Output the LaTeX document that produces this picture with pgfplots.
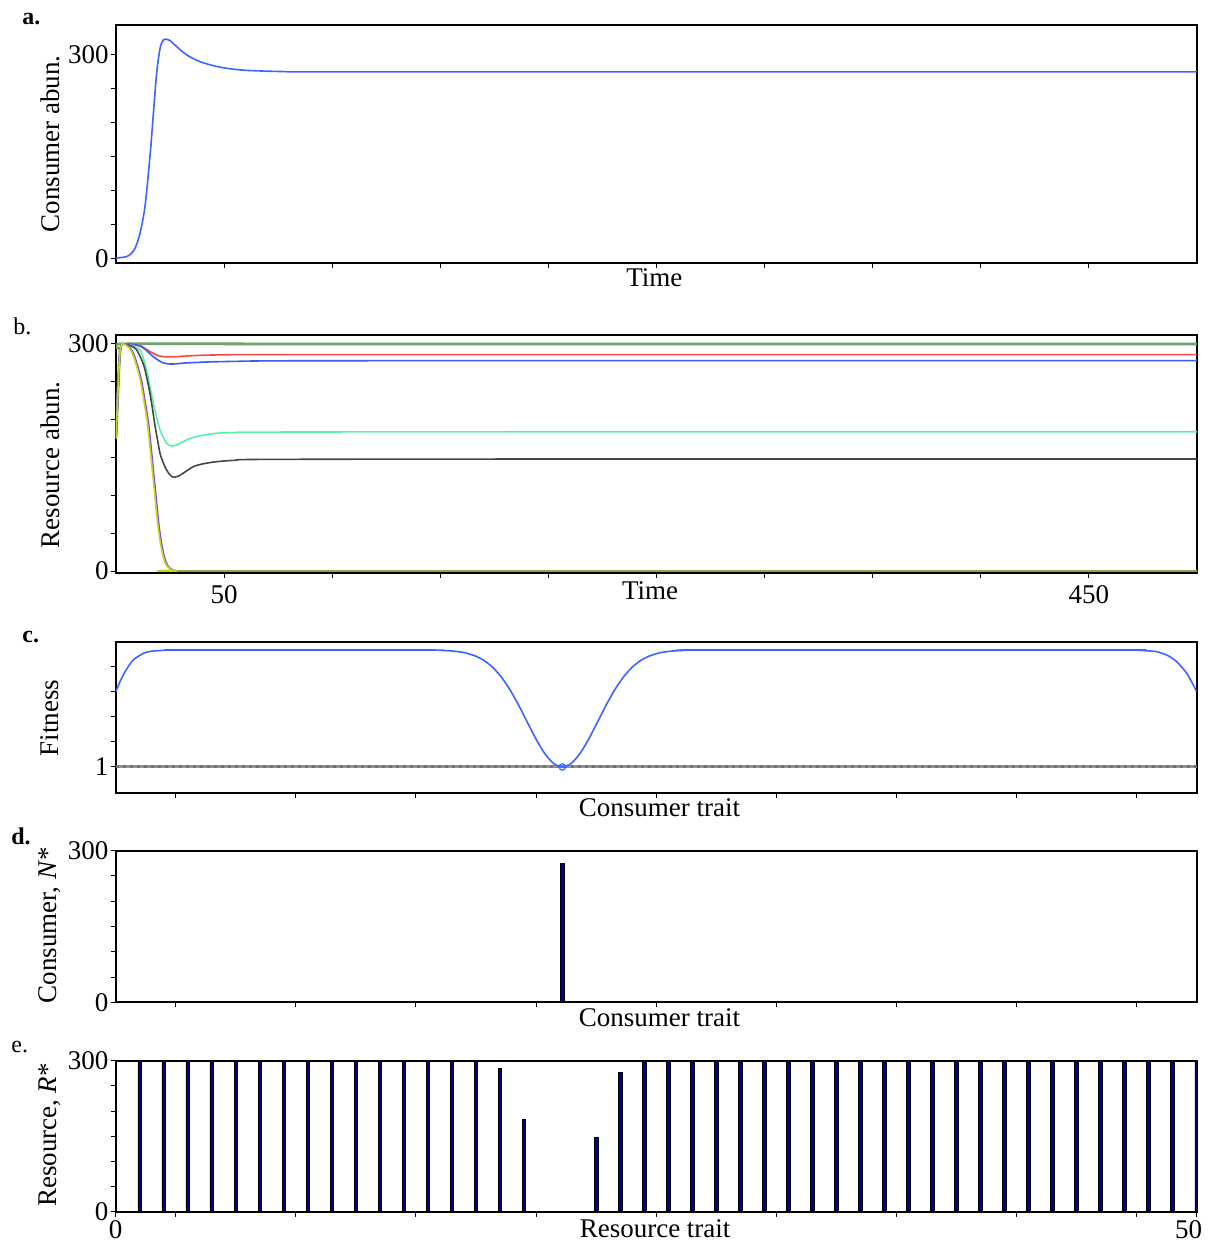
\documentclass[border=0pt]{standalone}
\usepackage{pgfplots}
\pgfplotsset{compat=1.18}
\usepackage{fontspec}
\setmainfont{Liberation Serif}
\definecolor{cblue}{RGB}{60,100,255}
\definecolor{cgreen}{RGB}{105,165,105}
\definecolor{cred}{RGB}{255,70,70}
\definecolor{cblue2}{RGB}{60,90,255}
\definecolor{caqua}{RGB}{90,240,170}
\definecolor{cgray}{RGB}{70,70,70}
\definecolor{cyellow}{RGB}{200,215,20}
\definecolor{cpurple}{RGB}{130,70,240}
\definecolor{colive}{RGB}{150,160,80}
\definecolor{cnavy}{RGB}{0,0,140}
\definecolor{cline}{RGB}{140,150,140}
\definecolor{cdot}{RGB}{120,110,130}
\newcommand{\lblfont}{\fontsize{13.5}{16}\selectfont}
\pgfplotsset{
  every axis/.append style={
    scale only axis, width=540.5pt, anchor=south west,
    axis line style={line width=0.9pt},
    tick align=outside, xtick pos=bottom, ytick pos=left,
    major tick length=2.5pt,
    tick style={line width=0.5pt, black},
    tick label style={font=\lblfont},
    label style={font=\lblfont},
    /pgf/number format/assume math mode=true,
    yticklabel style={inner sep=1pt},
    ylabel style={at={(axis description cs:-0.061,0.5)}, anchor=center},
  },
}
\begin{document}
\begin{tikzpicture}
\path[use as bounding box] (0pt,0pt) rectangle (606.5pt,626pt);

% ---------- a ----------
\begin{axis}[at={(58pt,494.5pt)}, height=119pt,
  xmin=0, xmax=500, ymin=-5.9, ymax=344,
  xtick={50,100,...,450}, xticklabels={},
  ytick={0,50,...,300}, yticklabels={0,,,,,,300},
  xlabel={Time}, xlabel style={at={(axis description cs:0.498,0)}, anchor=north, inner sep=2.5pt},
  ylabel={Consumer abun.}]
\addplot[cblue, line width=0.8pt, smooth, tension=0.5] coordinates {
(0,1) (2,2) (4.9,3.4) (7,8) (8.8,15.7) (11.1,37.7) (13.4,77) (15.7,150) (17.3,214) (18.8,273) (20.4,310) (21.9,322) (23.5,323) (25,321) (28.1,312) (32.7,300) (38.9,290) (46.6,283) (54.3,279) (62,277) (77.5,275.5) (100,275) (300,275) (500,275)};
\end{axis}

% ---------- b ----------
\begin{axis}[at={(58pt,339.5pt)}, height=119pt,
  xmin=0, xmax=500, ymin=-2.6, ymax=311.9,
  xtick={50,100,...,450}, xticklabels={50,,,,,,,,450},
  ytick={0,50,...,300}, yticklabels={0,,,,,,300},
  xlabel={Time}, xlabel style={at={(axis description cs:0.494,0)}, anchor=north, inner sep=0pt, yshift=-4pt},
  ylabel={Resource abun.}, ylabel style={at={(axis description cs:-0.061,0.454)}}]
\addplot[cgreen, line width=1.4pt, smooth, tension=0.5] coordinates {
(0,175) (0.5,210) (1,245) (1.5,275) (2,293) (2.8,300) (100,300) (500,300)};
\addplot[cred, line width=0.8pt, smooth, tension=0.5] coordinates {
(0,175) (0.5,210) (1,245) (1.5,275) (2,293) (2.8,300) (4,300) (8,299.5) (11.1,298) (13.5,294) (15.7,290) (18,286.5) (20.4,284) (23,283) (26.5,283) (32,284) (38.9,285) (50,285.7) (69.8,286) (200,286) (500,286)};
\addplot[cblue2, line width=0.8pt, smooth, tension=0.5] coordinates {
(0,175) (0.5,210) (1,245) (1.5,275) (2,293) (2.8,300) (4,300) (9,299) (12.6,295) (15,289) (17.3,283) (19.6,278.5) (21.9,275) (25,273.5) (28.5,274) (32.7,275) (42,276.2) (54.3,277) (80,277.8) (200,278) (500,278)};
\addplot[caqua, line width=0.8pt, smooth, tension=0.5] coordinates {
(0,175) (0.5,210) (1,245) (1.5,275) (2,293) (2.8,300) (4,300) (8,297.5) (11.1,292) (12.7,281) (14.2,265) (15.8,243) (17.3,221.5) (18.9,202) (20.4,186) (22,176) (23.5,168.6) (25.8,165) (27.5,166) (29.6,168.6) (32.5,173) (35.8,176.6) (40,179.3) (46.6,182) (55,183) (69.8,183.6) (200,184) (500,184)};
\addplot[cgray, line width=0.8pt, smooth, tension=0.5] coordinates {
(0,175) (0.5,210) (1,245) (1.5,275) (2,293) (2.8,300) (4,300) (7,297.5) (9.6,292) (12.6,274) (14.2,256) (15.7,235) (17,212) (18.1,191) (19.3,172) (20.4,155) (22,142) (23.5,133) (25,127) (26.5,124) (28.5,125) (30.4,128) (33,133) (35.8,138) (40,141.5) (46.6,144.5) (55,146.3) (69.8,147.5) (200,148) (500,148)};
\addplot[cpurple, line width=0.8pt, smooth, tension=0.5] coordinates {
(0,175) (0.5,210) (1,245) (1.5,275) (2,293) (2.8,300) (3.8,300) (5.8,297) (7.3,292) (8.8,282) (10.4,267) (11.9,250) (13.4,225) (15,196) (16.1,167) (17.3,133) (18.5,99) (19.6,67) (20.8,41) (22,23) (23.1,12) (24.3,5.5) (25.8,2.2) (27.3,0.7) (30.8,0) (200,0) (500,0)};
\addplot[cyellow, line width=0.8pt, smooth, tension=0.5] coordinates {
(0,175) (0.5,210) (1,245) (1.5,275) (2,293) (2.8,300) (3.6,300) (5.2,297) (6.8,292) (8.3,282) (9.9,267) (11.4,250) (12.9,225) (14.5,196) (15.6,167) (16.8,133) (18,99) (19.1,67) (20.3,41) (21.5,23) (22.6,12) (23.8,5.5) (25.3,2.2) (26.8,0.7) (30.3,0) (200,0) (500,0)};
\addplot[colive, line width=1.2pt] coordinates {(28,0) (500,0)};
\end{axis}

% ---------- c ----------
\begin{axis}[at={(57.85pt,229.65pt)}, height=75.5pt,
  xmin=0, xmax=50, ymin=0.743, ymax=2.253,
  xtick={2.778,8.333,13.889,19.444,25,30.556,36.111,41.667,47.222}, xticklabels={},
  ytick={1,1.25,1.5,1.75,2}, yticklabels={1,,,,},
  xlabel={Consumer trait}, xlabel style={at={(axis description cs:0.503,0)}, anchor=north, inner sep=0pt, yshift=-3pt},
  ylabel={Fitness}, ylabel style={at={(axis description cs:-0.061,0.495)}}]
\addplot[cline, line width=1.5pt] coordinates {(0,1) (50,1)};
\addplot[cdot, line width=1.5pt, dotted] coordinates {(0,1) (50,1)};
\addplot[cblue, line width=0.8pt, smooth, tension=0.4] coordinates {
(0,1.753) (0.2,1.853) (0.4,1.94) (0.6,2.01) (0.81,2.07) (1.0,2.1) (1.28,2.137) (1.5,2.152) (1.74,2.16) (2.36,2.168) (3,2.17)
(14.16,2.17) (15.06,2.166) (15.66,2.158) (16.16,2.142) (16.66,2.108) (17.06,2.062) (17.46,1.992) (17.86,1.893) (18.26,1.764) (18.66,1.609) (19.06,1.439) (19.46,1.272) (19.86,1.130) (20.26,1.034) (20.66,1.0)
(21.06,1.034) (21.46,1.130) (21.86,1.272) (22.26,1.439) (22.66,1.609) (23.06,1.764) (23.46,1.893) (23.86,1.992) (24.26,2.062) (24.66,2.108) (25.16,2.142) (25.66,2.158) (26.26,2.166) (27.16,2.17)
(46.5,2.17) (47.23,2.168) (47.7,2.162) (48.15,2.153) (48.61,2.12) (48.85,2.09) (49.08,2.053) (49.3,2.0) (49.54,1.937) (49.77,1.85) (50,1.753)};
\addplot[cblue, only marks, mark=o, mark size=1.6pt, mark options={line width=0.6pt}] coordinates {(20.66,1)};
\end{axis}

% ---------- d ----------
\begin{axis}[at={(57.85pt,124.85pt)}, height=75.8pt,
  xmin=0, xmax=50, ymin=0, ymax=300,
  xtick={2.778,8.333,13.889,19.444,25,30.556,36.111,41.667,47.222}, xticklabels={},
  ytick={0,50,...,300}, yticklabels={0,,,,,,300},
  xlabel={Consumer trait}, xlabel style={at={(axis description cs:0.503,0)}, anchor=north, inner sep=0pt, yshift=-3pt},
  ylabel={Consumer, \textit{N}*}, ylabel style={at={(axis description cs:-0.061,0.51)}}]
\addplot[ybar, bar width=2pt, fill=cnavy, draw=black, line width=0.4pt] coordinates {(20.66,275)};
\end{axis}

% ---------- e ----------
\begin{axis}[at={(57.85pt,20.15pt)}, height=75.5pt,
  xmin=0, xmax=50, ymin=0, ymax=300,
  xtick={0,2.778,8.333,13.889,19.444,25,30.556,36.111,41.667,47.222}, xticklabels={0,,,,,,,,,},
  extra x ticks={50}, extra x tick labels={50}, extra x tick style={tick label style={xshift=-4pt}},
  xticklabel style={inner sep=0pt, yshift=-1.5pt},
  ytick={0,50,...,300}, yticklabels={0,,,,,,300},
  xlabel={Resource trait}, xlabel style={at={(axis description cs:0.499,0)}, anchor=north, inner sep=0pt, yshift=-4pt},
  ylabel={Resource, \textit{R}*}, ylabel style={at={(axis description cs:-0.061,0.508)}}]
\addplot[ybar, bar width=1.8pt, fill=cnavy, draw=black, line width=0.4pt] coordinates {
(1.111,300) (2.222,300) (3.333,300) (4.444,300) (5.556,300) (6.667,300) (7.778,300) (8.889,300) (10,300) (11.111,300)
(12.222,300) (13.333,300) (14.444,300) (15.556,300) (16.667,300) (17.778,285) (18.889,183)
(22.222,147) (23.333,277) (24.444,300) (25.556,300) (26.667,300) (27.778,300) (28.889,300) (30,300)
(31.111,300) (32.222,300) (33.333,300) (34.444,300) (35.556,300) (36.667,300) (37.778,300) (38.889,300) (40,300)
(41.111,300) (42.222,300) (43.333,300) (44.444,300) (45.556,300) (46.667,300) (47.778,300) (48.889,300) (50,300)};
\end{axis}

\node[anchor=base west, inner sep=0pt, font=\fontsize{12}{14}\selectfont\bfseries] at (11pt,613.5pt) {a.};
\node[anchor=base west, inner sep=0pt, font=\fontsize{12}{14}\selectfont] at (6.5pt,458.5pt) {b.};
\node[anchor=base west, inner sep=0pt, font=\fontsize{12}{14}\selectfont\bfseries] at (11pt,304.5pt) {c.};
\node[anchor=base west, inner sep=0pt, font=\fontsize{12}{14}\selectfont\bfseries] at (5.5pt,203.5pt) {d.};
\node[anchor=base west, inner sep=0pt, font=\fontsize{12}{14}\selectfont] at (5.5pt,99.5pt) {e.};
\end{tikzpicture}
\end{document}
